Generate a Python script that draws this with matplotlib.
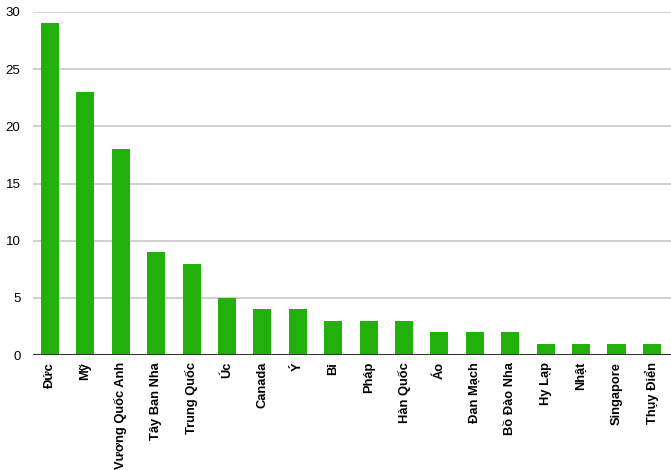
import matplotlib
matplotlib.use("Agg")
import matplotlib.pyplot as plt

countries = ["Đức", "Mỹ", "Vương Quốc Anh", "Tây Ban Nha", "Trung Quốc", "Úc",
             "Canada", "Ý", "Bỉ", "Pháp", "Hàn Quốc", "Áo", "Đan Mạch",
             "Bồ Đào Nha", "Hy Lạp", "Nhật", "Singapore", "Thụy Điển"]
values = [29, 23, 18, 9, 8, 5, 4, 4, 3, 3, 3, 2, 2, 2, 1, 1, 1, 1]
y_ticks = [0, 5, 10, 15, 20, 25, 30]

plt.rcParams['font.family'] = ['Liberation Sans', 'DejaVu Sans']

fig = plt.figure(figsize=(6.71, 4.70), dpi=100)
ax = fig.add_axes([33 / 671, 115 / 470, 638 / 671, 343 / 470])

x = range(len(countries))
ax.bar(x, values, width=0.51, color="#22b00a", zorder=3)

ax.set_xlim(-0.48, len(countries) - 0.46)
ax.set_ylim(0, 30)
ax.set_yticks(y_ticks)
ax.yaxis.grid(True, color="#c8c8c8", linewidth=1.2, zorder=0)
ax.axhline(0, color="#333333", linewidth=1.5, zorder=4)

ax.set_xticks(list(x))
ax.set_xticklabels(countries, rotation=90, fontsize=9.3, fontweight="bold",
                   va="top", ha="center")
ax.tick_params(axis="y", labelsize=9.5, length=0, pad=9)
ax.tick_params(axis="x", length=0, pad=5)

for side in ["top", "right", "left", "bottom"]:
    ax.spines[side].set_visible(False)

fig.savefig("out.png", dpi=100)
